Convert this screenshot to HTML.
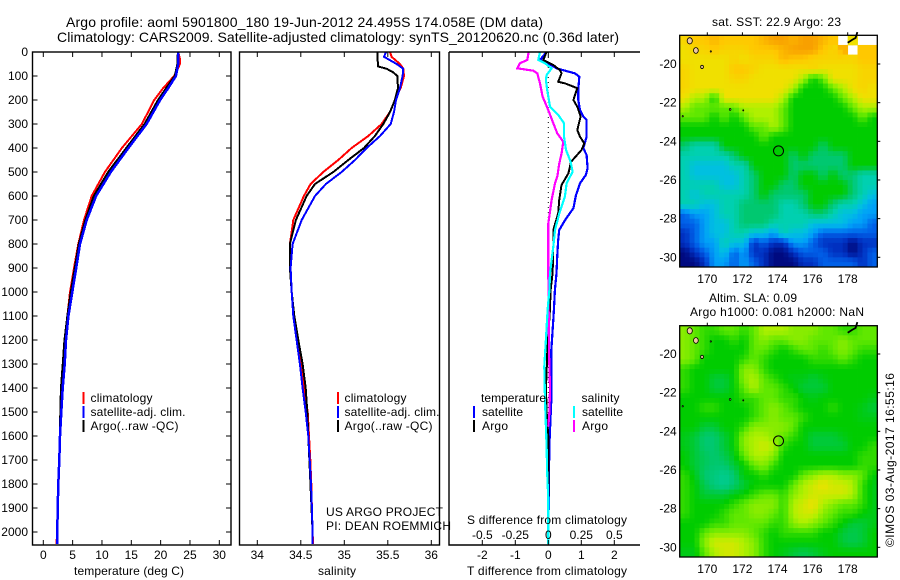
<!DOCTYPE html>
<html>
<head>
<meta charset="utf-8">
<title>Argo profile</title>
<style>
html,body{margin:0;padding:0;background:#fff;width:900px;height:580px;overflow:hidden}
svg{display:block}
text{font-family:"Liberation Sans",sans-serif;font-size:12px;fill:#000}
</style>
</head>
<body>
<svg id="chart" xmlns="http://www.w3.org/2000/svg" width="900" height="580" viewBox="0 0 900 580">
  <g id="maps"></g>
  <g id="panels"></g>
  <text x="66" y="27" textLength="477" style="font-size:14px">Argo profile: aoml 5901800_180 19-Jun-2012 24.495S 174.058E (DM data)</text>
  <text x="57" y="42" textLength="562" style="font-size:14px">Climatology: CARS2009. Satellite-adjusted climatology: synTS_20120620.nc (0.36d later)</text>

  <text x="74" y="575" textLength="110">temperature (deg C)</text>
  <text x="318" y="575" textLength="38">salinity</text>
  <text x="467" y="575" textLength="160">T difference from climatology</text>
  <text x="467" y="524" textLength="160">S difference from climatology</text>

  <g>
    <rect x="82.5" y="392" width="2" height="12" fill="#f00"/>
    <rect x="82.5" y="406" width="2" height="12" fill="#00f"/>
    <rect x="82.5" y="420" width="2" height="12" fill="#000"/>
    <text x="90.5" y="402" textLength="62">climatology</text>
    <text x="90.5" y="416" textLength="95">satellite-adj. clim.</text>
    <text x="90.5" y="430" textLength="88">Argo(..raw -QC)</text>
  </g>
  <g>
    <rect x="337" y="392" width="2" height="12" fill="#f00"/>
    <rect x="337" y="406" width="2" height="12" fill="#00f"/>
    <rect x="337" y="420" width="2" height="12" fill="#000"/>
    <text x="344.5" y="402" textLength="62">climatology</text>
    <text x="344.5" y="416" textLength="95">satellite-adj. clim.</text>
    <text x="344.5" y="430" textLength="88">Argo(..raw -QC)</text>
  </g>
  <text x="326" y="516" textLength="117">US ARGO PROJECT</text>
  <text x="326" y="530" textLength="125">PI: DEAN ROEMMICH</text>
  <g>
    <rect x="473" y="406" width="2" height="12" fill="#00f"/>
    <rect x="473" y="420" width="2" height="12" fill="#000"/>
    <rect x="573" y="406" width="2" height="12" fill="#0ff"/>
    <rect x="573" y="420" width="2" height="12" fill="#f0f"/>
    <text x="481" y="402" textLength="65">temperature</text>
    <text x="482" y="416" textLength="41">satellite</text>
    <text x="482" y="430" textLength="26">Argo</text>
    <text x="581.5" y="402" textLength="38">salinity</text>
    <text x="582" y="416" textLength="41">satellite</text>
    <text x="582" y="430" textLength="26">Argo</text>
  </g>
  <text x="712" y="26" textLength="129">sat. SST: 22.9 Argo: 23</text>
  <text x="709" y="302" textLength="88">Altim. SLA: 0.09</text>
  <text x="690" y="316" textLength="174">Argo h1000: 0.081 h2000: NaN</text>
  <text transform="translate(894,547) rotate(-90)" textLength="174">©IMOS 03-Aug-2017 16:55:16</text>
</svg>
<script>
// ---- temperature panel data ----
const tempDepths = [0,30,50,100,150,200,300,400,500,600,700,800,900,1000,1100,1200,1300,1400,1500,1600,1700,1800,1900,2000,2050];
const tempClim = [23.0,23.3,23.3,22.3,20.45,18.9,16.8,13.4,10.5,8.25,6.94,5.97,5.23,4.55,4.1,3.75,3.5,3.25,3.05,2.85,2.75,2.6,2.45,2.35,2.25];
const tempArgo = [23.0,22.9,22.9,22.44,21.0,19.6,17.3,14.2,11.1,8.64,7.2,6.08,5.4,4.72,4.15,3.65,3.35,3.05,2.95,2.85,2.73,2.56,2.45,2.39,2.39];
const tempSat = [23.0,23.0,23.0,22.6,21.3,19.9,17.6,14.5,11.5,9.0,7.4,6.25,5.6,4.95,4.27,3.87,3.64,3.3,3.07,2.85,2.73,2.56,2.45,2.39,2.39];
const tempTicks = [0,5,10,15,20,25,30];
const depthTicks = [0,100,200,300,400,500,600,700,800,900,1000,1100,1200,1300,1400,1500,1600,1700,1800,1900,2000];

// ---- salinity panel data ----
const salDepths = [0,20,50,70,100,150,200,250,300,350,400,450,500,550,600,700,800,900,1000,1100,1200,1300,1400,1500,1600,1700,1800,1900,2000,2050];
const salClim = [35.525,35.544,35.640,35.678,35.686,35.648,35.582,35.525,35.429,35.276,35.084,34.931,34.759,34.613,34.536,34.414,34.375,34.383,34.395,34.421,34.460,34.502,34.536,34.579,34.594,34.609,34.621,34.628,34.636,34.640];
const salSat = [35.479,35.456,35.602,35.678,35.670,35.640,35.594,35.571,35.533,35.410,35.257,35.123,34.969,34.789,34.663,34.510,34.406,34.383,34.395,34.414,34.452,34.490,34.521,34.556,34.586,34.602,34.617,34.628,34.636,34.636];
const salArgoDepths = [0,60,70,85,100,150,200,250,300,350,400,450,500,550,600,700,800,900,1000,1100,1200,1300,1400,1500,1600,2000];
const salArgo = [35.379,35.387,35.487,35.563,35.609,35.617,35.582,35.525,35.448,35.352,35.226,35.046,34.874,34.663,34.567,34.444,34.375,34.375,34.395,34.425,34.471,34.521,34.556,34.575,34.586,34.636];
const salTicks = [34,34.5,35,35.5,36];

// ---- difference panel data ----
const dTSatDepths = [0,33,47,68,78,89,103,158,200,242,269,283,353,401,429,485,512,547,596,651,700,742,783,853,922,992,1075,1117,1242,1450,1644,1769,2050];
const dTSat = [-0.05,-0.25,0,0.25,0.51,0.81,0.94,0.91,0.91,0.96,1.06,1.16,1.16,1.06,1.16,1.19,1.14,0.96,0.84,0.76,0.51,0.33,0.30,0.27,0.25,0.20,0.17,0.15,0.09,0.09,0.03,0.02,0];
const dTArgoDepths = [0,33,54,75,89,124,131,151,200,228,269,325,353,381,408,457,506,554,617,672,742,811,922,992,1075,1250,1400,1500,1600,2000];
const dTArgo = [-0.05,-0.15,0.15,0.35,0.40,0.30,0.51,0.88,0.76,0.88,0.98,0.88,0.96,1.09,1.01,0.69,0.61,0.40,0.33,0.30,0.15,0.15,0.13,0.07,0.05,-0.03,-0.07,-0.05,0,0];
const dSSatDepths = [0,33,47,68,96,117,158,228,262,297,353,408,457,499,547,603,672,742,811,922,992,1075,1172,1311,1450,1644,1755,1866,2050];
const dSSat = [-0.063,-0.076,-0.025,0.025,-0.013,-0.018,-0.008,0.013,0.076,0.119,0.119,0.134,0.169,0.184,0.139,0.126,0.083,0.051,0.038,0.013,0.008,-0.005,-0.015,-0.030,-0.025,-0.013,-0.008,0,0];
const dSArgoDepths = [0,33,47,68,78,89,131,186,242,297,339,374,422,464,519,547,617,714,783,922,1100,1250,1400,1500,1560];
const dSArgo = [-0.149,-0.159,-0.215,-0.235,-0.114,-0.083,-0.063,-0.043,0,0.038,0.068,0.114,0.101,0.083,0.068,0.051,0.025,0,0,0,0.003,0.005,0.013,0.008,0];
const dTTicks = [-2,-1,0,1,2];
const dSTicks = [-0.5,-0.25,0,0.25,0.5];

// ---- map data (colour-scale level per cell, -1 = no data) ----
const lonTicks = [170,172,174,176,178];
const latTicks = [-20,-22,-24,-26,-28,-30];
const sstCells = [
[10.5,11,11,11.5,11,11,11,11,11.5,12,12,11.5,12,12,11.5,11,-1,10,-1,-1],
[10,10.5,10.5,11,10.5,10.5,10.5,11,11,11,11.5,12,12,12,11,10.5,11.5,-1,11,11],
[10,10,10,10,10,10.5,10,10.5,10.5,10.5,11.5,11,11,10.5,10.5,10.5,10.5,10.5,11,11],
[10.5,10,10,10,10,11,11,10.5,10,10,10,10,10,10.5,10,10,10,10,10.5,10.5],
[10.5,10,10,10,10,10.5,10.5,10,10,10,10,10,9,7,8,10,10,10,10.5,10.5],
[10.5,10,10,10,10,10,10,10,10,10,10,9,7,7,7,8,9,10,10.5,10],
[10,9,9,7,10,10,10,10,10,10,9,7,7,7,7,7,8,9,10,10],
[9,8,8,8,8,8,9,9,9,9,8,7,7,7,7,7,7,8,9,9],
[8,8,8,7,8,7,8,9,9,9,8,7,7,7,7,7,7,7,8,7],
[7,7,7,7,7,7,7,8,8,9,8,7,7,7,7,7,7,7,7,7],
[7,7,7,7,7,7,7,7,8,7,7,7,7,7,7,7,7,7,7,7],
[6,5,5,5,7,7,7,7,7,7,7,7,7,7,6,7,7,7,7,7],
[5,5,5,5,5,6,7,7,7,7,7,6,7,6,6,6,6,7,7,7],
[5,4,4,4,4,5,5,7,7,7,7,6,6,6,6,6,6,7,7,7],
[5,4,4,4,4,4,5,6,7,7,7,6,7,7,6,7,6,6,5,5],
[5,5,5,5,4,4,5,6,7,7,6,6,7,7,7,7,7,6,5,5],
[5,4,5,5,5,5,5,6,7,6,6,6,6,7,7,7,7,6,5,4],
[5,5,4,4,5,5,6,6,6,6,5,5,6,7,7,6,5,5,4,3],
[2,3,3,4,5,5,6,6,6,6,5,5,5,6,6,5,4,4,3,3],
[2,2,3,4,4,5,6,6,6,5,5,5,5,4,4,4,4,3,3,2],
[1,2,3,4,4,5,5,4,4,3,5,4,4,3,2,2,2,2,2,2],
[1,2,3,3,5,4,4,1,2,1,1,3,3,2,1,1,1,0,1,1],
[0,1,2,3,4,2,3,1,1,0,0,1,2,2,2,1,1,0,1,2],
[0,0,1,3,3,2,3,2,1,0,0,0,1,1,2,2,2,2,1,2]
];
const slaCells = [
[8.5,8,7.5,7.5,8,8,7.5,8,9,9,9,8.5,8.5,8.5,8,8,7.5,7.5,8,8],
[8.5,8,7.5,7,7,7.5,7,8,8.5,8,8,8.5,8.5,8,8,8,8.5,8,8,8],
[8.5,8,7.5,7,7,7,7,8,8,7.5,7,7.5,8,8,7.5,8,8.5,8,7.5,7.5],
[8.5,8,7,7,7,7,7.5,8,7.5,7,7,7,7,7.5,7.5,7.5,8,7.5,7,7],
[7.5,7,7,7,7,7,8.5,8.5,7.5,7,7,7,7,7,7,7,7,7,7,7],
[7.5,7,7,6.5,6.5,7,8.5,9,8,7.5,7,6.8,6.8,6.5,6.8,7,7,7,7,7],
[7.5,7,7,6.5,6.5,7,8,9,8,8,7.5,7,6.5,6.5,6.5,7,7,7,7,7],
[7,7,7,7,7,7,7.5,7.5,8,8,7.5,7.5,7,6.8,7,7,7,7,7,6.8],
[7,7,7.5,7.5,7,7,7,7.5,8,8.5,8,7.5,7,7,7,7.5,7,7,6.8,6.5],
[7,7,7,7,7,7,7,7.5,8,8.5,8,8,7.5,7,7,7,7,7,6.8,6.8],
[7,7,6.5,6.5,7,7,7.5,8.5,8.5,8.5,8.5,8,7,7,7,7,7,7,7,7],
[6.8,6.5,6,6,6.5,7,8.5,9,9,8.5,8,7.5,7,6.5,6.5,6.5,6.8,7,7,7],
[6.8,6.5,6,6,6.5,7,8.5,9,9.5,9,7.5,7,7,6.5,6.5,6.5,6.5,7,7,7.5],
[7,6.5,6.2,6,6.3,6.8,8,9,9,8.5,7,7,7,7,7,7,7,7,7.5,7.5],
[7,6.5,6.2,6,6,6.5,7,8,8.5,7.5,7,7,7,7,7,7,7,7,7.5,7.5],
[7.5,6.8,6,5.8,5.5,6,7,7,7.5,7,7,7,8,8.5,9,9,8.5,8.5,8,7],
[7.5,7,6.3,5.8,5.5,6,6.5,7,7,7,7,8,9,9.5,10,9.5,9.5,9,7.5,6.8],
[7.5,7,6.5,6.5,6.5,6.8,7,7.5,8,8,7.5,8.5,9,9.5,9.5,9.5,9.5,9,7.5,6.8],
[7.5,7,7,7,7,7.5,8,8.5,8.5,8.5,7.5,9,9.5,10,9,8.5,8,8,7.5,6.8],
[7.5,7,7,7,7.5,8,8,8.5,8.5,8,7.5,9,9.5,9.5,8.5,8,7.5,7.5,7,6.8],
[7,7,7,7.5,7.5,8,8,8,8,7.5,7.5,8.5,9,8.5,8,7.5,7,6.5,6.5,6.8],
[7,7,8,8.5,8.5,8.5,8.5,8,7.5,7,7.5,7.5,7.5,7.5,7,7,6.5,6.3,6.5,7],
[7,7,8.5,9.5,9.5,9.5,9,8.5,7.5,7,7,7,7,7,7,7,6.5,6.3,6.5,7],
[6.8,6.8,8,9,9.5,9.5,9,8.5,7.5,7,6.8,6.5,6.3,6.5,6.8,7,7,7,7,7]
];
const colourStops = ["#000a80","#0030c0","#0060e8","#00a0f8","#00c0e0","#00d0b0","#00c870","#00cc00","#60e800","#b0f000","#f0e000","#ffc800","#f8a000"];
const floatLon = 174.058;
const floatLat = -24.495;
const islandLons = [169.0,169.35,169.7,170.2,171.3,172.05,168.6];
const islandLats = [-18.8,-19.3,-20.15,-19.35,-22.35,-22.4,-22.7];
const islandSizes = [2.6,2.4,1.4,0.6,0.8,0.5,0.6];

const NS = "http://www.w3.org/2000/svg";
const panelsG = document.getElementById("panels");
const mapsG = document.getElementById("maps");

function make(parent, tag, props, txt) {
  const el = document.createElementNS(NS, tag);
  for (const k in props) el.setAttribute(k, props[k]);
  if (txt !== undefined) el.textContent = txt;
  parent.appendChild(el);
  return el;
}
function fmtTick(v) { return String(v); }

// ---- axis functions ----
const yDepth = d => 52 + d * 0.24;
const xTemp = t => 43.3 + t * 5.867;
const xSal = s => 257.3 + (s - 34) * 87;
const xDT = t => 548.3 + t * 33;
const xDS = s => 548.3 + s * 132;

function drawProfile(parent, xFn, depths, vals, colour, w, name) {
  const pts = vals.map((v, i) => xFn(v).toFixed(1) + "," + yDepth(depths[i]).toFixed(1)).join(" ");
  const el = make(parent, "polyline", {points: pts, fill: "none", stroke: colour, "stroke-width": w, "stroke-linejoin": "miter", "shape-rendering": "crispEdges"});
  
  
}
function drawFrame(parent, x0, x1, name) {
  const el = make(parent, "rect", {x: x0, y: 52, width: x1 - x0, height: 493, fill: "none", stroke: "#000", "stroke-width": 1.4});
  
  
}
function drawXTicks(parent, ticks, xFn, y, name) {
  ticks.forEach(t => {
    const top = make(parent, "line", {x1: xFn(t), x2: xFn(t), y1: 52, y2: 57, stroke: "#000", "stroke-width": 1});
    
    
    const bot = make(parent, "line", {x1: xFn(t), x2: xFn(t), y1: 540, y2: 545, stroke: "#000", "stroke-width": 1});
    
    
    const lab = make(parent, "text", {x: xFn(t), y: y, "text-anchor": "middle"}, fmtTick(t));
    
    
  });
}

// temperature panel
const gT = make(panelsG, "g", {});


drawProfile(gT, xTemp, tempDepths, tempClim, "#f00", 2, "temperature-climatology-line");
drawProfile(gT, xTemp, tempDepths, tempArgo, "#000", 2.5, "temperature-argo-line");
drawProfile(gT, xTemp, tempDepths, tempSat, "#00f", 2.5, "temperature-satellite-line");
drawFrame(gT, 32.5, 231, "temperature-plot-frame");
drawXTicks(gT, tempTicks, xTemp, 559, "temperature-axis");
depthTicks.forEach(d => {
  const l = make(gT, "line", {x1: 32.5, x2: 37.5, y1: yDepth(d), y2: yDepth(d), stroke: "#000", "stroke-width": 1});
  
  
  const r = make(gT, "line", {x1: 226, x2: 231, y1: yDepth(d), y2: yDepth(d), stroke: "#000", "stroke-width": 1});
  
  
  const t = make(gT, "text", {x: 28, y: yDepth(d) + 4, "text-anchor": "end"}, String(d));
  
  
});

// salinity panel
const gS = make(panelsG, "g", {});


drawProfile(gS, xSal, salDepths, salClim, "#f00", 2, "salinity-climatology-line");
drawProfile(gS, xSal, salArgoDepths, salArgo, "#000", 2, "salinity-argo-line");
drawProfile(gS, xSal, salDepths, salSat, "#00f", 2, "salinity-satellite-line");
drawFrame(gS, 239.5, 439.5, "salinity-plot-frame");
drawXTicks(gS, salTicks, xSal, 559, "salinity-axis");

// difference panel
const gD = make(panelsG, "g", {});


const zero = make(gD, "line", {x1: xDT(0), x2: xDT(0), y1: 52, y2: 545, stroke: "#000", "stroke-width": 1, "stroke-dasharray": "1 4"});


drawProfile(gD, xDT, dTSatDepths, dTSat, "#00f", 2.2, "t-difference-satellite-line");
drawProfile(gD, xDT, dTArgoDepths, dTArgo, "#000", 2, "t-difference-argo-line");
drawProfile(gD, xDS, dSArgoDepths, dSArgo, "#f0f", 2.2, "s-difference-argo-line");
drawProfile(gD, xDS, dSSatDepths, dSSat, "#0ff", 2.2, "s-difference-satellite-line");
const frameD = make(gD, "path", {d: "M449 52H640M449 52V545H640", fill: "none", stroke: "#000", "stroke-width": 1.4});


drawXTicks(gD, dTTicks, xDT, 559, "t-difference-axis");
dSTicks.forEach(s => {
  const lab = make(gD, "text", {x: xDS(s), y: 539, "text-anchor": "middle"}, fmtTick(s));
  
  
});

// maps
function hex(c) { return [1, 3, 5].map(i => parseInt(c.substr(i, 2), 16)); }
function levelColour(v) {
  const i = Math.min(Math.floor(v), colourStops.length - 2);
  const f = v - i;
  const a = hex(colourStops[i]), b = hex(colourStops[i + 1]);
  return "rgb(" + a.map((p, k) => Math.round(p + (b[k] - p) * f)).join(",") + ")";
}
function sampleCell(cells, r, c, dr, dc) {
  const own = cells[r][c];
  const r2 = Math.max(0, Math.min(cells.length - 1, r + (dr < 0 ? -1 : 1)));
  const c2 = Math.max(0, Math.min(cells[0].length - 1, c + (dc < 0 ? -1 : 1)));
  const a = cells[r][c2], b = cells[r2][c], d = cells[r2][c2];
  if (a < 0 || b < 0 || d < 0) return own;
  const fr = Math.abs(dr), fc = Math.abs(dc);
  return own * (1 - fr) * (1 - fc) + a * (1 - fr) * fc + b * fr * (1 - fc) + d * fr * fc;
}
function drawMap(cells, box, name) {
  const xLon = lon => 707.3 + (lon - 170) * 17.55;
  const yLat = lat => box.y20 + (-20 - lat) * 19.33;
  const g = make(mapsG, "g", {});
  
  
  const cw = (box.x1 - box.x0) / cells[0].length;
  const ch = (box.y1 - box.y0) / cells.length;
  cells.forEach((row, r) => row.forEach((v, c) => {
    if (v < 0) return;
    [-0.25, 0.25].forEach((dr, i) => [-0.25, 0.25].forEach((dc, j) => {
      const cell = make(g, "rect", {x: (box.x0 + (c + j / 2) * cw).toFixed(2), y: (box.y0 + (r + i / 2) * ch).toFixed(2), width: (cw / 2 + 0.4).toFixed(2), height: (ch / 2 + 0.4).toFixed(2), fill: levelColour(sampleCell(cells, r, c, dr, dc))});
      
      
    }));
  }));
  islandLons.forEach((lon, i) => {
    const isl = make(g, "ellipse", {cx: xLon(lon), cy: yLat(islandLats[i]), rx: islandSizes[i], ry: islandSizes[i] * 1.2, fill: "#f0c8a0", stroke: "#000", "stroke-width": 0.8});
    
    
  });
  const coast = make(g, "polyline", {points: [[178.0,-18.9],[178.25,-18.75],[178.45,-18.65],[178.55,-18.35]].map(p => xLon(p[0]) + "," + yLat(p[1])).join(" "), fill: "none", stroke: "#000", "stroke-width": 1.8});
  
  
  const frame = make(g, "rect", {x: box.x0, y: box.y0, width: box.x1 - box.x0, height: box.y1 - box.y0, fill: "none", stroke: "#000", "stroke-width": 1.3});
  
  
  lonTicks.forEach(lon => {
    const t1 = make(g, "line", {x1: xLon(lon), x2: xLon(lon), y1: box.y0 - 3, y2: box.y0, stroke: "#000", "stroke-width": 1});
    
    
    const lab = make(g, "text", {x: xLon(lon), y: box.y1 + 16, "text-anchor": "middle"}, String(lon));
    
    
  });
  latTicks.forEach(lat => {
    const t2 = make(g, "line", {x1: box.x1, x2: box.x1 + 3, y1: yLat(lat), y2: yLat(lat), stroke: "#000", "stroke-width": 1});
    
    
    const lab = make(g, "text", {x: box.x0 - 3, y: yLat(lat) + 4, "text-anchor": "end"}, "-" + Math.abs(lat));
    
    
  });
  const mark = make(g, "circle", {cx: xLon(floatLon), cy: yLat(floatLat), r: 5, fill: "none", stroke: "#000", "stroke-width": 1});
  
  
}
drawMap(sstCells, {x0: 679.7, x1: 877.3, y0: 35.3, y1: 267, y20: 64}, "sst-map");
drawMap(slaCells, {x0: 679.7, x1: 877.3, y0: 325.7, y1: 557, y20: 354}, "sla-map");
</script>
</body>
</html>
